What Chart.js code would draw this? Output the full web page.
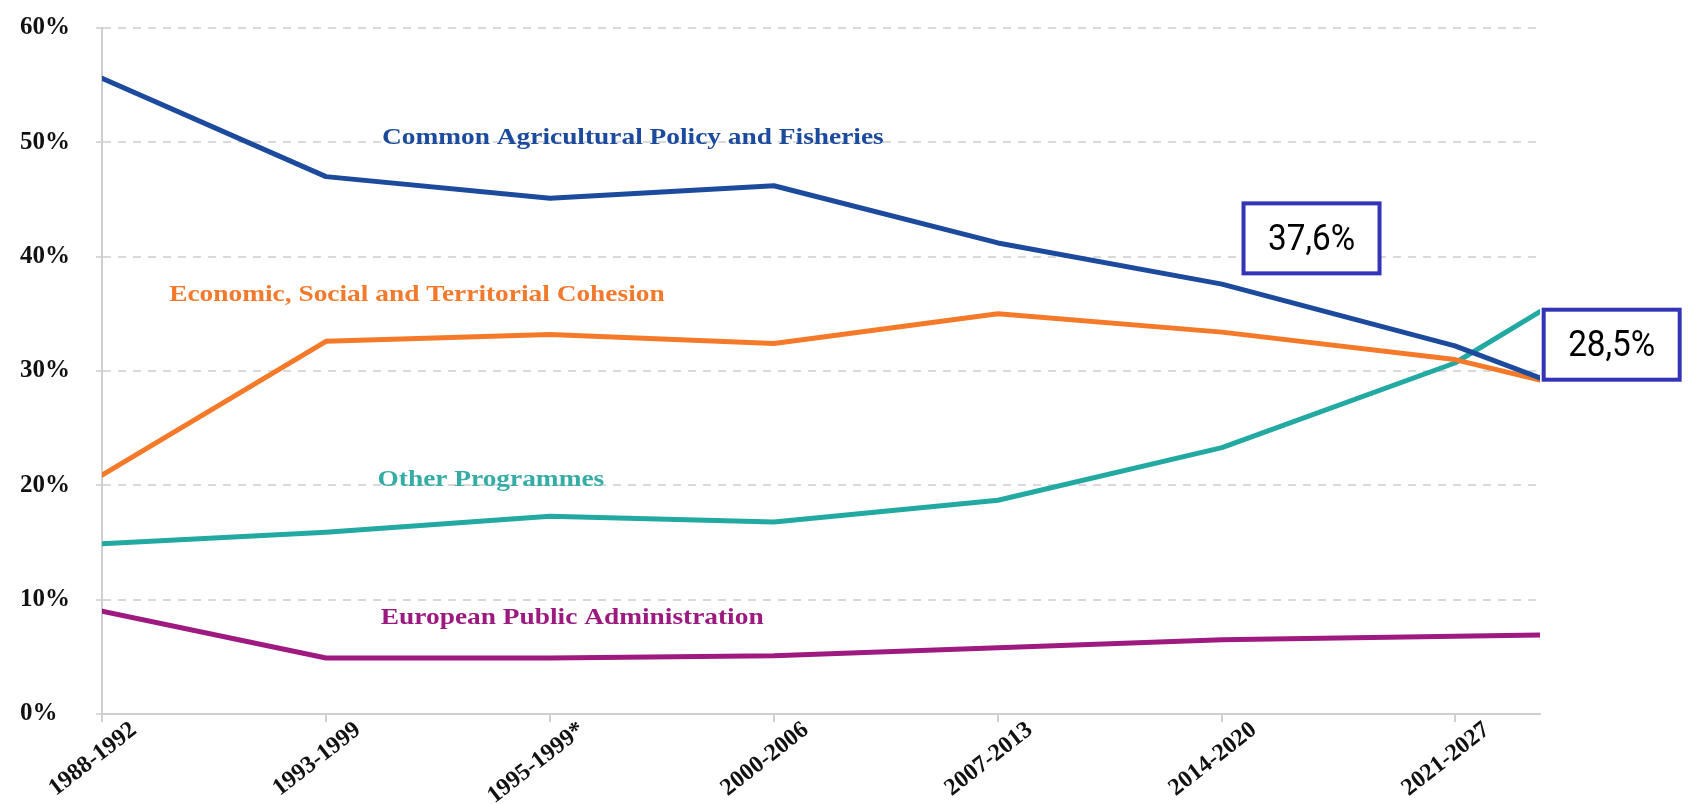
<!DOCTYPE html>
<html>
<head>
<meta charset="utf-8">
<script src="https://cdn.jsdelivr.net/npm/chart.js@4"></script>
<style>
    body { margin: 0; background: #fff; }
    #wrap { width: 1688px; height: 804px; }
</style>
</head>
<body>
<div id="wrap"><canvas id="budgetShares"></canvas></div>
<script>
const periods = ['1988-1992', '1993-1999', '1995-1999*', '2000-2006', '2007-2013', '2014-2020', '2021-2027', ''];
const periodX = [0, 1, 2, 3, 4, 5, 6.04, 6.42];
const capShare = [55.6, 47.0, 45.1, 46.2, 41.2, 37.6, 32.2, 29.4];
const cohesionShare = [20.9, 32.6, 33.2, 32.4, 35.0, 33.4, 31.0, 29.2];
const otherShare = [14.9, 15.9, 17.3, 16.8, 18.7, 23.3, 30.7, 35.2];
const adminShare = [9.0, 4.9, 4.9, 5.1, 5.8, 6.5, 6.8, 6.9];
const yTicks = [0, 10, 20, 30, 40, 50, 60];

const toPoints = (vals) => vals.map((v, i) => ({ x: periodX[i], y: v }));

const seriesLabels = [
    { text: 'Common Agricultural Policy and Fisheries', x: 1.25, y: 50.4, color: '#1c4a9c' },
    { text: 'Economic, Social and Territorial Cohesion', x: 0.30, y: 36.6, color: '#f37a2c' },
    { text: 'Other Programmes', x: 1.23, y: 20.5, color: '#35aca5' },
    { text: 'European Public Administration', x: 1.245, y: 8.4, color: '#9c1a80' }
];

const callouts = [
    { text: '37,6%', x: 5.40, y: 41.6 },
    { text: '28,5%', x: 6.74, y: 32.3 }
];

const lineSet = (label, vals, color) => ({
    label: label,
    data: toPoints(vals),
    borderColor: color,
    backgroundColor: color,
    borderWidth: 5,
    pointRadius: 0,
    tension: 0,
    borderCapStyle: 'round',
    borderJoinStyle: 'round'
});

const data = {
    datasets: [
        lineSet('Common Agricultural Policy and Fisheries', capShare, '#1c4a9c'),
        lineSet('Economic, Social and Territorial Cohesion', cohesionShare, '#f47a2a'),
        lineSet('Other Programmes', otherShare, '#22a9a1'),
        lineSet('European Public Administration', adminShare, '#9e1a80')
    ]
};

// text drawn inside the plot, anchored to axis values
const textPlugin = {
    id: 'textPlugin',
    afterDraw(chart) {
        const ctx = chart.ctx;
        const xs = chart.scales.x;
        const ys = chart.scales.y;
        ctx.save();
        ctx.textBaseline = 'middle';
        ctx.textAlign = 'left';
        ctx.font = 'bold 23px "Liberation Serif", serif';
        for (let l of seriesLabels) {
            const px = xs.getPixelForValue(l.x);
            const py = ys.getPixelForValue(l.y);
            ctx.save();
            ctx.translate(px, py);
            ctx.scale(1.19, 1);
            ctx.fillStyle = l.color;
            ctx.fillText(l.text, 0, 0);
            ctx.restore();
        }
        ctx.textAlign = 'center';
        for (let c of callouts) {
            const px = xs.getPixelForValue(c.x);
            const py = ys.getPixelForValue(c.y);
            ctx.fillStyle = '#fff';
            ctx.fillRect(px - 68, py - 35, 136, 70);
            ctx.strokeStyle = '#3434b8';
            ctx.lineWidth = 4;
            ctx.strokeRect(px - 68, py - 35, 136, 70);
            ctx.save();
            ctx.translate(px, py + 2);
            ctx.scale(0.9, 1);
            ctx.font = '37px Roboto, sans-serif';
            ctx.fillStyle = '#000';
            ctx.fillText(c.text, 0, 0);
            ctx.restore();
        }
        ctx.restore();
    }
};

const config = {
    type: 'line',
    data: data,
    options: {
        responsive: true,
        maintainAspectRatio: false,
        animation: false,
        layout: { padding: { left: 20, top: 28, right: 148, bottom: 0 } },
        plugins: {
            legend: { display: false },
            tooltip: { enabled: false }
        },
        scales: {
            x: {
                type: 'linear',
                min: 0,
                max: periodX[periodX.length - 1],
                afterBuildTicks: (axis) => {
                    axis.ticks = periodX.slice(0, 7).map(v => ({ value: v }));
                },
                afterFit: (axis) => { axis.height = 90; },
                grid: { drawOnChartArea: false, drawTicks: true, tickLength: 8, color: '#cfcfcf', lineWidth: 2 },
                border: { display: true, color: '#cfcfcf', width: 2 },
                ticks: {
                    autoSkip: false,
                    minRotation: 38,
                    maxRotation: 38,
                    padding: -6,
                    labelOffset: 32,
                    color: '#111',
                    font: { family: '"Liberation Serif", serif', weight: 'bold', size: 24 },
                    callback: (value, index) => periods[index]
                }
            },
            y: {
                min: 0,
                max: 60,
                afterBuildTicks: (axis) => {
                    axis.ticks = yTicks.map(v => ({ value: v }));
                },
                afterFit: (axis) => { axis.width = 82; },
                grid: { color: '#d9d9d9', lineWidth: 2, tickLength: 6 },
                border: { display: true, color: '#cfcfcf', width: 2, dash: [8, 7] },
                ticks: {
                    crossAlign: 'far',
                    color: '#111',
                    font: { family: '"Liberation Serif", serif', weight: 'bold', size: 25 },
                    callback: (v) => v + '%'
                }
            }
        }
    },
    plugins: [textPlugin]
};

const budgetChart = new Chart( // eslint-disable-line
    document.getElementById('budgetShares'),
    config
);
</script>
</body>
</html>
